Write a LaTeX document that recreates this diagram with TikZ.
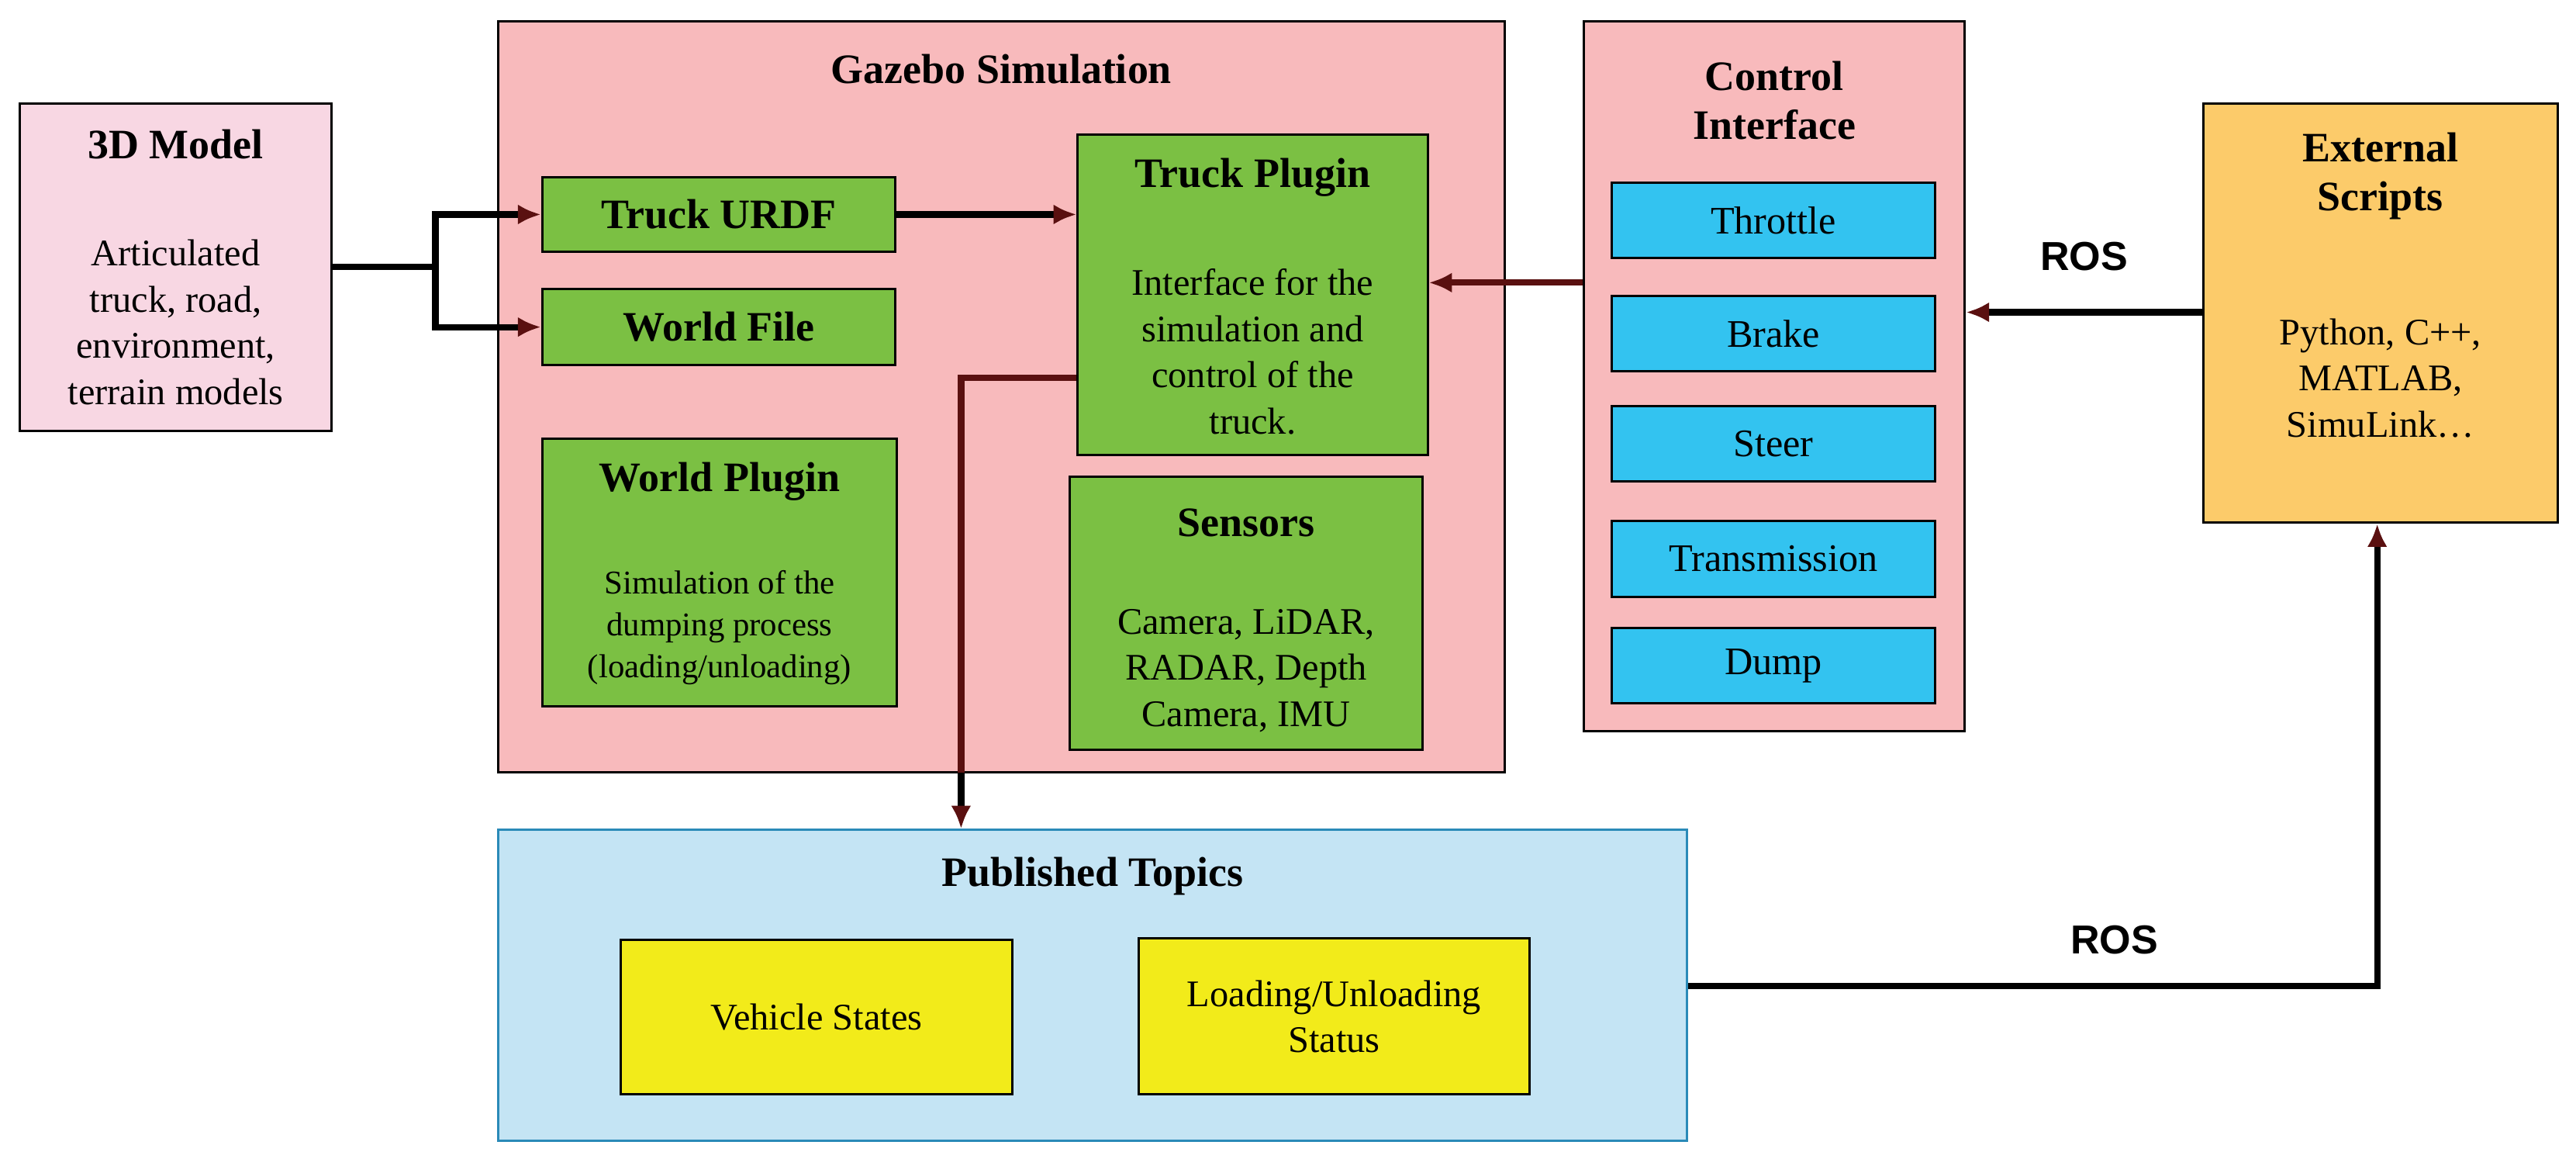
\documentclass[tikz,border=0pt]{standalone}
\usepackage{fontspec}
\setmainfont{Liberation Serif}
\newfontfamily\rosfont{Liberation Sans}
\usetikzlibrary{positioning,arrows.meta}
\definecolor{modelpink}{HTML}{F8D7E3}
\definecolor{simpink}{HTML}{F8BABC}
\definecolor{plugreen}{HTML}{7BC043}
\definecolor{ctrlcyan}{HTML}{33C3F0}
\definecolor{extorange}{HTML}{FCCB6A}
\definecolor{topicblue}{HTML}{C4E4F4}
\definecolor{topicedge}{HTML}{2A8AB8}
\definecolor{topicyellow}{HTML}{F2EB1A}
\definecolor{darkred}{HTML}{5A1010}

\tikzstyle{box}=[rectangle, draw=black, line width=0.8pt, inner sep=0pt]
\tikzstyle{title}=[font=\fontsize{14.5}{17}\selectfont\bfseries, align=center]
\tikzstyle{body}=[font=\fontsize{13}{16}\selectfont, align=center]
\tikzstyle{small}=[font=\fontsize{11.5}{14.5}\selectfont, align=center]
\tikzstyle{ctrl}=[box, fill=ctrlcyan, minimum width=3.94cm, minimum height=0.92cm, font=\fontsize{13.5}{16}\selectfont]
\tikzstyle{myarrow}=[-{Latex[length=8pt,width=7pt,color=darkred]}, line width=2.2pt]
\tikzstyle{ros}=[font=\rosfont\fontsize{14}{16}\selectfont\bfseries]

\begin{document}
\begin{tikzpicture}[x=0.02cm, y=-0.02cm]
\useasboundingbox (0,0) rectangle (1568,705);

% 3D model
\node (model) at (107,162.5) [box, fill=modelpink, minimum width=3.8cm, minimum height=3.98cm] {};
\node (modelT) at (107,88) [title] {3D Model};
\node (modelB) at (107,196) [body] {Articulated\\truck, road,\\environment,\\terrain models};

% simulation
\node (gazebo) at (609.5,241.5) [box, fill=simpink, minimum width=12.26cm, minimum height=9.14cm] {};
\node (gazeboT) at (609.5,42) [title] {Gazebo Simulation};
\node (urdf) at (437.5,130.5) [box, fill=plugreen, minimum width=4.3cm, minimum height=0.9cm, title] {Truck URDF};
\node (world) at (437.5,199) [box, fill=plugreen, minimum width=4.3cm, minimum height=0.92cm, title] {World File};
\node (wplugin) at (438,348.5) [box, fill=plugreen, minimum width=4.32cm, minimum height=3.26cm] {};
\node (wpluginT) at (438,293) [title] {World Plugin};
\node (wpluginB) at (438,382) [small] {Simulation of the\\dumping process\\(loading/unloading)};
\node (tplugin) at (762.5,179.5) [box, fill=plugreen, minimum width=4.26cm, minimum height=3.9cm] {};
\node (tpluginT) at (762.5,108) [title] {Truck Plugin};
\node (tpluginB) at (762.5,214) [body] {Interface for the\\simulation and\\control of the\\truck.};
\node (sensors) at (758.5,373) [box, fill=plugreen, minimum width=4.3cm, minimum height=3.32cm] {};
\node (sensorsT) at (758.5,318) [title] {Sensors};
\node (sensorsB) at (758.5,408) [body] {Camera, LiDAR,\\RADAR, Depth\\Camera, IMU};

% control interface
\node (control) at (1080,229) [box, fill=simpink, minimum width=4.64cm, minimum height=8.64cm] {};
\node (controlT) at (1080,61) [title] {Control\\Interface};
\node (throttle) at (1079.5,134) [ctrl] {Throttle};
\node (brake) at (1079.5,203) [ctrl] {Brake};
\node (steer) at (1079.5,270) [ctrl] {Steer};
\node (trans) at (1079.5,340) [ctrl] {Transmission};
\node (dump) at (1079.5,405) [ctrl] {Dump};

% external scripts
\node (ext) at (1449,190.5) [box, fill=extorange, minimum width=4.32cm, minimum height=5.1cm] {};
\node (extT) at (1449,107) [title] {External\\Scripts};
\node (extB) at (1449,230) [body] {Python, C++,\\MATLAB,\\SimuLink\dots};

% published topics
\node (topics) at (665,599.5) [box, draw=topicedge, fill=topicblue, minimum width=14.48cm, minimum height=3.78cm] {};
\node (topicsT) at (665,533) [title] {Published Topics};
\node (vstates) at (497,619) [box, fill=topicyellow, minimum width=4.76cm, minimum height=1.88cm, body] {Vehicle States};
\node (lstatus) at (812,618.5) [box, fill=topicyellow, minimum width=4.76cm, minimum height=1.9cm, body] {Loading/Unloading\\Status};

% connectors
\coordinate (split) at (265,162.5);
\draw[line width=2.2pt] (model.east) -- (split);
\draw[myarrow] (split) |- (urdf.west);
\draw[myarrow] (split) |- (world.west);
\draw[myarrow] (urdf.east) -- (urdf.east -| tplugin.west);
\draw[myarrow, draw=darkred] (control.west |- 0,172) -- (tplugin.east |- 0,172);
\draw[myarrow] (ext.west |- 0,190) -- (control.east |- 0,190) node[midway, above=0.35cm, ros] {ROS};
\coordinate (tap) at (585,230);
\draw[line width=2.2pt, draw=darkred] (tplugin.west |- tap) -- (tap) -- (585,470);
\draw[myarrow] (585,470) -- (topics.north -| tap);
\coordinate (bend) at (1447,600);
\draw[myarrow] (topics.east |- bend) -- (bend) -- (ext.south -| bend);
\node (ros2) at (1287,572) [ros] {ROS};
\end{tikzpicture}
\end{document}
